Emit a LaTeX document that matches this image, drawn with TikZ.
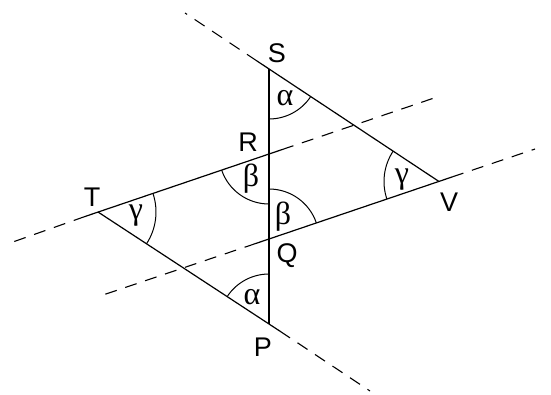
\documentclass[tikz,border=0pt]{standalone}
\usepackage{fontspec}
\setmainfont{Liberation Sans}
\newfontfamily\greekfont{Liberation Serif}
\usetikzlibrary{angles}

\tikzset{
  side/.style={line width=1.2pt},
  axis/.style={line width=1.6pt},
  ext/.style={line width=1.1pt, dash pattern=on 12pt off 9pt},
  arcmark/.style={draw, line width=1pt},
  ptlabel/.style={font=\fontsize{27}{31}\selectfont},
  anglabel/.style={font=\greekfont\fontsize{32}{36}\selectfont},
}

\begin{document}
\begin{tikzpicture}[x=1pt,y=1pt]
\useasboundingbox (0,0) rectangle (551,394);
% vertices
\coordinate (S) at (269,325);
\coordinate (P) at (269,70);
\coordinate (R) at (269,240);
\coordinate (Q) at (269,155);
\coordinate (T) at (98,182);
\coordinate (V) at (439,212.5);
% ends of the solid pieces
\coordinate (Sa) at (257,333);
\coordinate (Ta) at (85,177.5);
\coordinate (Ra) at (282,244.4);
\coordinate (Qa) at (256,150.6);
\coordinate (Va) at (452,217);
\coordinate (Pa) at (280,62.8);
% ends of the dashed pieces
\coordinate (Sd) at (185,381);
\coordinate (Td) at (10,151);
\coordinate (Rd) at (440,298);
\coordinate (Qd) at (97,97);
\coordinate (Vd) at (535,245);
\coordinate (Pd) at (370,3);

\draw[ext] (Sa) -- (Sd);
\draw[ext] (Ta) -- (Td);
\draw[ext] (Ra) -- (Rd);
\draw[ext] (Qa) -- (Qd);
\draw[ext] (Va) -- (Vd);
\draw[ext] (Pa) -- (Pd);

\draw[axis] (S) -- (P);
\draw[side] (Sa) -- (V);
\draw[side] (Ta) -- (Ra);
\draw[side] (Qa) -- (Va);
\draw[side] (T) -- (Pa);

\pic[arcmark, angle radius=50pt] {angle=P--S--V};
\pic[arcmark, angle radius=50pt] {angle=S--P--T};
\pic[arcmark, angle radius=58pt] {angle=P--T--R};
\pic[arcmark, angle radius=55pt] {angle=S--V--Q};
\pic[arcmark, angle radius=50pt] {angle=T--R--Q};
\pic[arcmark, angle radius=50pt] {angle=V--Q--R};

\node[ptlabel] (lS) at (277,341) {S};
\node[ptlabel] (lR) at (248,252) {R};
\node[ptlabel] (lT) at (92,197) {T};
\node[ptlabel] (lV) at (449,192) {V};
\node[ptlabel] (lQ) at (287,138) {Q};
\node[ptlabel] (lP) at (263,47) {P};

\node[anglabel] (aS) at (285,296) {α};
\node[anglabel] (aR) at (251,215) {β};
\node[anglabel] (aQ) at (283,177) {β};
\node[anglabel] (aT) at (136,178) {γ};
\node[anglabel] (aV) at (402,214) {γ};
\node[anglabel] (aP) at (252,97) {α};
\end{tikzpicture}
\end{document}
